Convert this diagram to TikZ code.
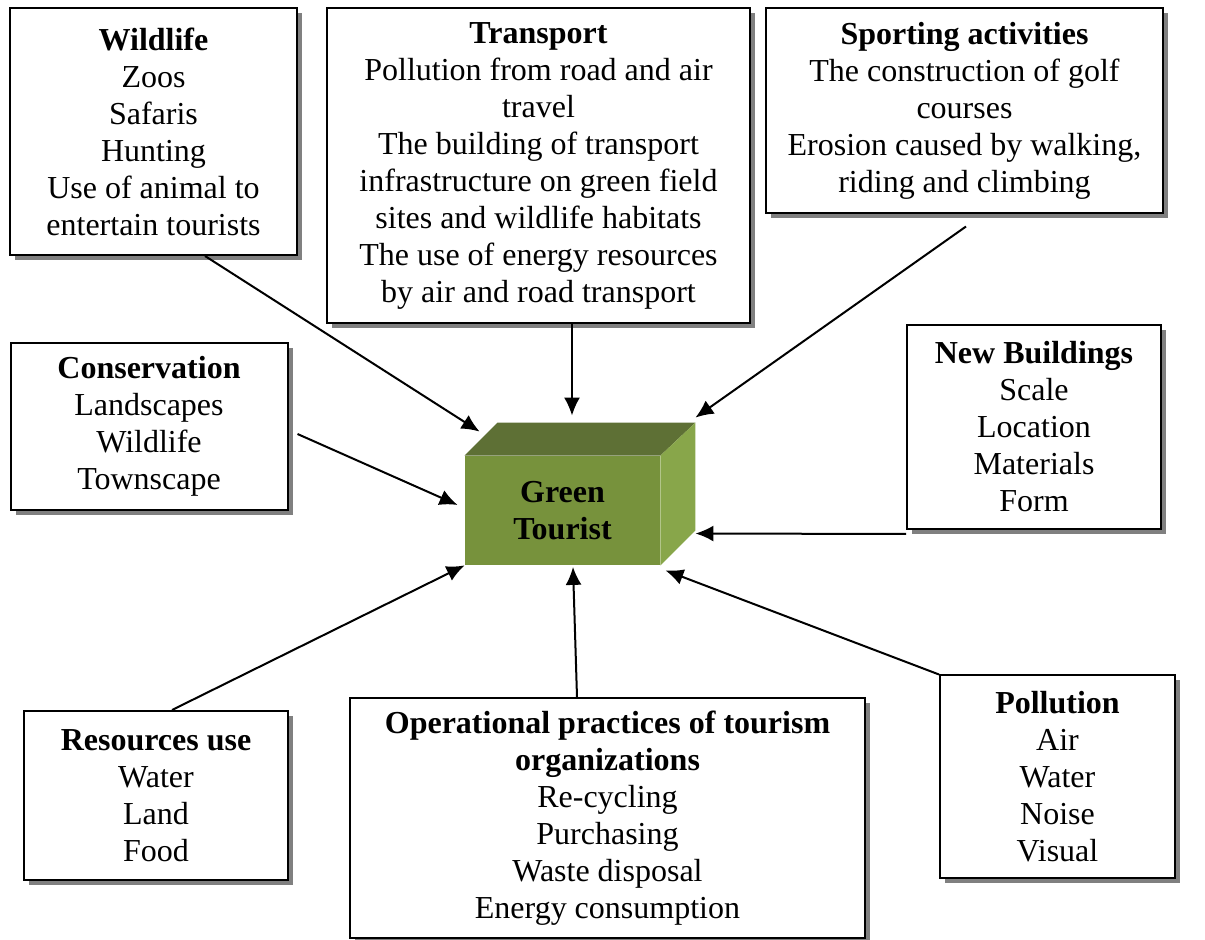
\documentclass[tikz,border=0pt]{standalone}
\usepackage{fontspec}
\setmainfont{Liberation Serif}
\usetikzlibrary{positioning, calc, arrows.meta, shadows}

\definecolor{cubefront}{HTML}{77923C}
\definecolor{cubetop}{HTML}{5E7035}
\definecolor{cubeside}{HTML}{88A64A}

\tikzset{
  box/.style={draw, line width=1pt, fill=white, align=center,
    font=\fontsize{16}{18.5}\selectfont,
    drop shadow={shadow xshift=2.5pt, shadow yshift=-2.5pt, fill=black!50, opacity=1}},
  link/.style={line width=1pt, -{Latex[length=9pt, width=8pt]}}
}

\begin{document}
\begin{tikzpicture}[x=0.5pt, y=-0.5pt]
      \useasboundingbox (0,0) rectangle (1205,940);
      % boxes
      \node[box, minimum width=143.5pt, minimum height=123.5pt] (wild) at (153.5,131.5)
        {\textbf{Wildlife}\\Zoos\\Safaris\\Hunting\\Use of animal to\\entertain tourists};
      \node[box, minimum width=211.5pt, minimum height=157.5pt] (trans) at (538.5,165.5)
        {\textbf{Transport}\\Pollution from road and air\\travel\\The building of transport\\infrastructure on green field\\sites and wildlife habitats\\The use of energy resources\\by air and road transport};
      \node[box, minimum width=198.5pt, minimum height=102.5pt] (sport) at (964.5,111)
        {\textbf{Sporting activities}\\The construction of golf\\courses\\Erosion caused by walking,\\riding and climbing};
      \node[box, minimum width=138.5pt, minimum height=83.5pt] (cons) at (149,426.5)
        {\textbf{Conservation}\\Landscapes\\Wildlife\\Townscape};
      \node[box, minimum width=127pt, minimum height=102pt] (newb) at (1034,427)
        {\textbf{New Buildings}\\Scale\\Location\\Materials\\Form};
      \node[box, minimum width=132pt, minimum height=84.5pt] (res) at (156,795.5)
        {\textbf{Resources use}\\Water\\Land\\Food};
      \node[box, minimum width=257.5pt, minimum height=120pt] (oper) at (607.5,818)
        {\textbf{Operational practices of tourism}\\\textbf{organizations}\\Re-cycling\\Purchasing\\Waste disposal\\Energy consumption};
      \node[box, minimum width=117.5pt, minimum height=101pt] (poll) at (1057.5,776.5)
        {\textbf{Pollution}\\Air\\Water\\Noise\\Visual};
      % cube
      \node[fill=cubefront, minimum width=97.5pt, minimum height=54.5pt, inner sep=0pt,
        align=center, font=\fontsize{16}{18.5}\selectfont\bfseries] (gt) at (562.5,510.5)
        {Green\\Tourist};
      \fill[cubetop] (gt.north west) -- ++(33,-33) -- ($(gt.north east)+(35,-33)$) -- (gt.north east) -- cycle;
      \fill[cubeside] (gt.north east) -- ++(35,-33) -- ($(gt.south east)+(35,-35)$) -- (gt.south east) -- cycle;
      % links
      \draw[link] ($(wild.south)+(51.5,0)$) -- ($(gt.north west)+(15,-24)$);
      \draw[link] ($(trans.south)+(33.5,0)$) -- ($(gt.north)+(9.5,-40)$);
      \draw[link] ($(sport.south)+(1.5,12)$) -- ($(gt.north east)+(35,-38)$);
      \draw[link] ($(cons.east)+(9,7.5)$) -- ($(gt.west)+(-7,-5.5)$);
      \draw[link] ($(newb.south west)+(0,4)$) -- ($(gt.east)+(35,23)$);
      \draw[link] ($(res.north)+(16,0)$) -- (gt.south west);
      \draw[link] ($(oper.north)+(-30.5,0)$) -- ($(gt.south)+(10.5,1.5)$);
      \draw[link] (poll.north west) -- ($(gt.south east)+(5,5)$);
    \end{tikzpicture}
\end{document}
